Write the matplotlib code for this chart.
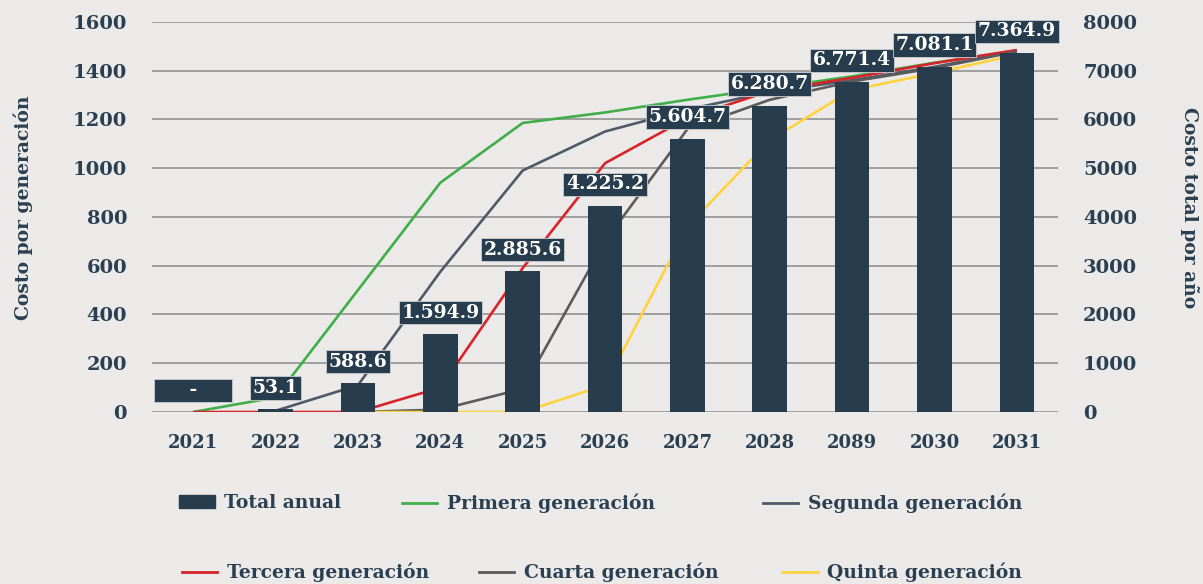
import matplotlib
matplotlib.use("Agg")
import matplotlib.pyplot as plt
import numpy as np
from matplotlib.patches import Patch
from matplotlib.lines import Line2D

# data
years = ["2021", "2022", "2023", "2024", "2025", "2026", "2027", "2028", "2089", "2030", "2031"]
total_anual = [0, 53.1, 588.6, 1594.9, 2885.6, 4225.2, 5604.7, 6280.7, 6771.4, 7081.1, 7364.9]

primera = [0, 60, 500, 940, 1185, 1228, 1280, 1328, 1376, 1432, 1482]
segunda = [np.nan, 5, 110, 575, 990, 1150, 1240, 1312, 1360, 1415, 1480]
tercera = [0, 0, 0, 100, 590, 1020, 1205, 1316, 1370, 1430, 1484]
cuarta = [np.nan, np.nan, 0, 10, 95, 700, 1160, 1280, 1355, 1410, 1478]
quinta = [np.nan, np.nan, 0, 0, 0, 110, 760, 1115, 1320, 1390, 1465]

BG = "#ebeae8"
NAVY = "#273c4d"
TXT = "#2a3f51"
series = [
    ("Primera generación", primera, "#3fae49"),
    ("Segunda generación", segunda, "#4e5a69"),
    ("Tercera generación", tercera, "#d7232a"),
    ("Cuarta generación", cuarta, "#5b5b5b"),
    ("Quinta generación", quinta, "#ffd23f"),
]

plt.rcParams["font.family"] = ["DejaVu Serif"]
plt.rcParams["font.weight"] = "bold"

fig = plt.figure(figsize=(12.03, 5.84), dpi=100, facecolor=BG)
ax = fig.add_axes([0.1264, 0.2945, 0.7531, 0.6683])
ax.set_facecolor(BG)
x = np.arange(len(years))

for name, vals, col in series:
    ax.plot(x, vals, color=col, lw=1.9, solid_capstyle="butt")

ax.set_ylim(0, 1600)
ax.set_yticks(range(0, 1601, 200))
ax.set_xlim(-0.5, len(years) - 0.5)
ax.set_xticks(x)
ax.set_xticklabels(years)
ax.grid(axis="y", color="#999999", lw=1.3)
ax.set_axisbelow(True)
for s in ax.spines.values():
    s.set_visible(False)
ax.tick_params(axis="both", length=0, labelcolor=TXT)
ax.tick_params(axis="y", pad=18, labelsize=14)
ax.tick_params(axis="x", pad=16, labelsize=13)

ax2 = ax.twinx()
bars = ax2.bar(x, total_anual, width=0.42, color=NAVY, zorder=3)
ax2.set_ylim(0, 8000)
ax2.set_yticks(range(0, 8001, 1000))
for s in ax2.spines.values():
    s.set_visible(False)
ax2.tick_params(axis="y", length=0, labelsize=14, labelcolor=TXT, pad=18)

for xi, v in zip(x, total_anual):
    lab = f"{v:,.1f}".replace(",", ".") if v > 0 else "     -     "
    ax2.annotate(lab, (xi, v), xytext=(0, 15.5), textcoords="offset points",
                 ha="center", va="center", color="white", fontsize=13.5, fontweight="bold",
                 zorder=5,
                 bbox=dict(boxstyle="square,pad=0.14", fc=NAVY, ec="#c9ced3", lw=0.6))

fig.text(0.019, 0.644, "Costo por generación", rotation=90, ha="center", va="center",
         color=TXT, fontsize=13.5, fontweight="bold")
fig.text(0.989, 0.644, "Costo total por año", rotation=270, ha="center", va="center",
         color=TXT, fontsize=13.5, fontweight="bold")

# legend entries placed one by one to follow the reference layout
handles = [Patch(color=NAVY)] + [Line2D([], [], color=c, lw=2) for _, _, c in series]
labels = ["Total anual"] + [n for n, _, _ in series]
spots = [(0.149, 0.138), (0.334, 0.138), (0.634, 0.138),
         (0.151, 0.02), (0.398, 0.02), (0.650, 0.02)]
for h, l, (px, py) in zip(handles, labels, spots):
    fig.legend([h], [l], loc="center left", bbox_to_anchor=(px, py), frameon=False,
               handlelength=1.9, handletextpad=0.5, borderaxespad=0,
               borderpad=0, labelcolor=TXT, prop={"weight": "bold", "size": 13.5})

fig.savefig("out.png", dpi=100, facecolor=BG)
